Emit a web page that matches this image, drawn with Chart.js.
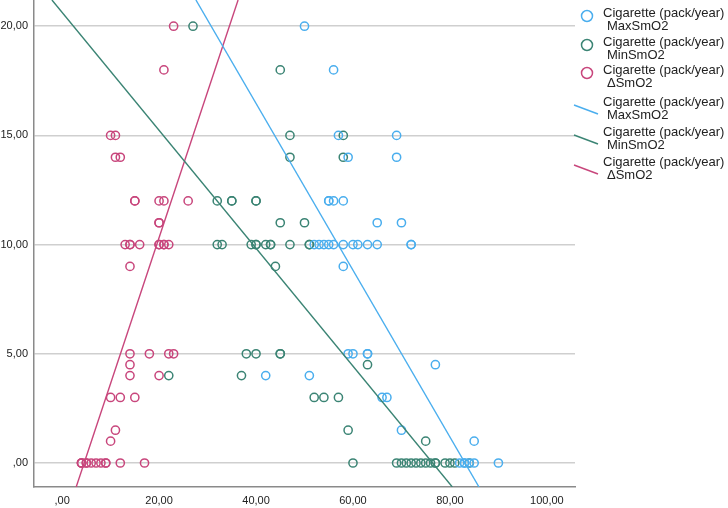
<!DOCTYPE html>
<html>
<head>
<meta charset="utf-8">
<script src="https://cdn.jsdelivr.net/npm/chart.js@4/dist/chart.umd.min.js"></script>
<style>
  html, body { margin: 0; padding: 0; background: #fff; }
  #wrap { position: relative; width: 728px; height: 508px; }
  #legend { position: absolute; left: 570px; top: 0; font-family: "Liberation Sans", Arial, sans-serif; font-size: 13px; color: #222; }
  .item { position: absolute; left: 0; width: 160px; height: 28px; }
  .item svg { position: absolute; left: 0; top: 0; }
  .item .t { position: absolute; left: 33px; line-height: 12.5px; white-space: nowrap; }
  .item .t span { display: block; padding-left: 4px; }
</style>
</head>
<body>
<div id="wrap">
  <canvas id="grafico" width="728" height="508"></canvas>
  <div id="legend"></div>
</div>
<script>
// Cigarette (pack/year) vs SmO2 values
const maxX = [50, 56, 57, 69, 59, 69, 55, 55, 56, 58, 65, 70,
  52, 53, 54, 55, 56, 58, 60, 61, 63, 65, 72, 72, 58,
  59, 60, 63, 63, 77, 42, 51, 66, 67, 70, 85, 82, 83, 83, 84, 85, 90];
const maxY = [20, 18, 15, 15, 14, 14, 12, 12, 12, 12, 11, 11,
  10, 10, 10, 10, 10, 10, 10, 10, 10, 10, 10, 10, 9,
  5, 5, 5, 5, 4.5, 4, 4, 3, 3, 1.5, 1, 0, 0, 0, 0, 0, 0];

const minX = [27, 45, 47, 58, 47, 58, 32, 35, 35, 40, 40, 45, 50,
  32, 33, 39, 40, 40, 42, 43, 43, 47, 51, 51, 44,
  38, 40, 45, 45, 63, 22, 37, 52, 54, 57, 59, 75,
  60, 69, 70, 71, 72, 73, 74, 75, 76, 77, 77, 79, 80, 81, 84];
const minY = [20, 18, 15, 15, 14, 14, 12, 12, 12, 12, 12, 11, 11,
  10, 10, 10, 10, 10, 10, 10, 10, 10, 10, 10, 9,
  5, 5, 5, 5, 4.5, 4, 4, 3, 3, 3, 1.5, 1,
  0, 0, 0, 0, 0, 0, 0, 0, 0, 0, 0, 0, 0, 0, 0];

const deltaX = [23, 21, 10, 11, 11, 12, 15, 15, 20, 21, 26, 20, 20,
  13, 14, 14, 16, 20, 20, 21, 21, 22, 14,
  14, 18, 22, 23, 14, 14, 20, 10, 12, 15, 11, 10,
  4, 4, 4, 5, 5, 6, 7, 8, 9, 9, 12, 17];
const deltaY = [20, 18, 15, 15, 14, 14, 12, 12, 12, 12, 12, 11, 11,
  10, 10, 10, 10, 10, 10, 10, 10, 10, 9,
  5, 5, 5, 5, 4.5, 4, 4, 3, 3, 3, 1.5, 1,
  0, 0, 0, 0, 0, 0, 0, 0, 0, 0, 0, 0];

// fit lines (end points where they leave the plot)
const maxFitX = [27.6, 86.0];
const maxFitY = [21.2, -1.1];
const minFitX = [-2.1, 80.5];
const minFitY = [21.2, -1.1];
const deltaFitX = [36.3, 2.9];
const deltaFitY = [21.2, -1.1];

const xTicks = [0, 20, 40, 60, 80, 100];
const yTicks = [0, 5, 10, 15, 20];

const seriesNames = ["MaxSmO2", "MinSmO2", "\u0394SmO2"];
const cores = ["#4aaeee", "#3b8474", "#c8467c"];

function pontos(xs, ys) {
  return xs.map((x, i) => ({ x: x, y: ys[i] }));
}

function rotulo(v) {
  if (v === 0) return ",00";
  return v.toFixed(2).replace(".", ",");
}

const circulo = (cor) => ({
  data: [],
  showLine: false,
  pointRadius: 4.1,
  pointHoverRadius: 4.1,
  pointBorderWidth: 1.5,
  pointBackgroundColor: "rgba(0,0,0,0)",
  pointBorderColor: cor,
  borderColor: cor,
});

const reta = (cor) => ({
  data: [],
  showLine: true,
  pointRadius: 0,
  borderWidth: 1.4,
  borderColor: cor,
});

const dsMax = circulo(cores[0]); dsMax.data = pontos(maxX, maxY);
const dsMin = circulo(cores[1]); dsMin.data = pontos(minX, minY);
const dsDelta = circulo(cores[2]); dsDelta.data = pontos(deltaX, deltaY);
const fitMax = reta(cores[0]); fitMax.data = pontos(maxFitX, maxFitY);
const fitMin = reta(cores[1]); fitMin.data = pontos(minFitX, minFitY);
const fitDelta = reta(cores[2]); fitDelta.data = pontos(deltaFitX, deltaFitY);

const fonte = { family: "'Liberation Sans', Arial, sans-serif", size: 11 };

new Chart(document.getElementById("grafico"), {
  type: "scatter",
  data: { datasets: [fitMax, fitMin, fitDelta, dsMax, dsMin, dsDelta] },
  options: {
    responsive: false,
    animation: false,
    layout: { autoPadding: false, padding: { left: 0, right: 153, top: 0, bottom: 0 } },
    plugins: { legend: { display: false }, tooltip: { enabled: false } },
    scales: {
      x: {
        type: "linear",
        min: -5.8,
        max: 105.8,
        afterBuildTicks: (s) => { s.ticks = xTicks.map((v) => ({ value: v })); },
        afterFit: (s) => { s.height = 21; s.paddingLeft = 0; s.paddingRight = 0; },
        grid: { display: false, drawTicks: false },
        border: { display: true, color: "#8a8a8a", width: 1.5 },
        ticks: { color: "#222", font: fonte, padding: 7, maxRotation: 0, callback: rotulo },
      },
      y: {
        type: "linear",
        min: -1.1,
        max: 21.2,
        afterBuildTicks: (s) => { s.ticks = yTicks.map((v) => ({ value: v })); },
        afterFit: (s) => { s.width = 34; s.paddingTop = 0; s.paddingBottom = 0; },
        grid: { color: "#cfcfcf", lineWidth: 1.5, drawTicks: false },
        border: { display: true, color: "#8a8a8a", width: 1.5 },
        ticks: { color: "#222", font: fonte, padding: 6, callback: rotulo },
      },
    },
  },
});

// legenda no lado direito
const legenda = document.getElementById("legend");
const tops = [7, 36, 64, 96, 126, 156];
for (let i = 0; i < 6; i++) {
  const cor = cores[i % 3];
  const div = document.createElement("div");
  div.className = "item";
  div.style.top = tops[i] + "px";
  let icone;
  if (i < 3) {
    icone = `<svg width="30" height="28"><circle cx="17" cy="9" r="5.5" fill="none" stroke="${cor}" stroke-width="1.5"/></svg>`;
  } else {
    icone = `<svg width="30" height="28"><line x1="4" y1="9" x2="28" y2="18" stroke="${cor}" stroke-width="1.4"/></svg>`;
  }
  div.innerHTML = icone + `<div class="t">Cigarette (pack/year)<span>${seriesNames[i % 3]}</span></div>`;
  legenda.appendChild(div);
}
</script>
</body>
</html>
